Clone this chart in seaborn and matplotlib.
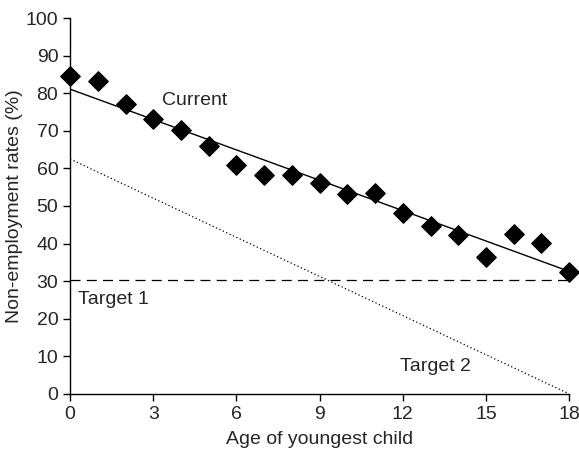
import matplotlib
matplotlib.use("Agg")
import matplotlib.pyplot as plt
import seaborn as sns
import pandas as pd
import numpy as np

ages = list(range(19))
rates = [84.5, 83.2, 77.1, 73.1, 70.2, 66.0, 60.9, 58.2, 58.2, 56.1,
         53.2, 53.5, 48.1, 44.7, 42.3, 36.4, 42.6, 40.2, 32.4]
current_trend_x = [0, 18]
current_trend_y = [81.1, 32.6]
target1_x = [0, 18]
target1_y = [30.4, 30.4]
target2_x = [0, 18]
target2_y = [62.5, 0.0]
xticks = [0, 3, 6, 9, 12, 15, 18]
yticks = list(range(0, 101, 10))

sns.set_style("white")
plt.rcParams['font.family'] = ['Liberation Sans', 'DejaVu Sans']

fig = plt.figure(figsize=(5.79, 4.65), dpi=100)
ax = fig.add_axes([0.121, 0.153, 0.862, 0.808])

df = pd.DataFrame({"age": ages, "rate": rates})
sns.scatterplot(data=df, x="age", y="rate", marker="D", s=100, color="black",
                edgecolor="black", ax=ax, clip_on=False, zorder=3)
sns.lineplot(x=current_trend_x, y=current_trend_y, color="black", lw=1.0, ax=ax)
sns.lineplot(x=target1_x, y=target1_y, color="black", lw=0.9, ax=ax)
ax.lines[-1].set_linestyle((0, (8, 5)))
sns.lineplot(x=target2_x, y=target2_y, color="black", lw=0.9, ax=ax)
ax.lines[-1].set_linestyle((0, (1, 2)))

fs = 14
ax.text(3.3, 78, "Current", fontsize=fs, va="center", ha="left")
ax.text(0.3, 25, "Target 1", fontsize=fs, va="center", ha="left")
ax.text(11.9, 7.3, "Target 2", fontsize=fs, va="center", ha="left")

ax.set_xlim(0, 18)
ax.set_ylim(0, 100)
ax.set_xticks(xticks)
ax.set_yticks(yticks)
ax.tick_params(axis="both", direction="out", length=5, width=1, labelsize=fs,
               bottom=True, left=True, color="black")
ax.set_xlabel("Age of youngest child", fontsize=fs, labelpad=6)
ax.set_ylabel("Non-employment rates (%)", fontsize=fs, labelpad=2)
sns.despine(ax=ax)
for s in ["left", "bottom"]:
    ax.spines[s].set_color("black")
    ax.spines[s].set_linewidth(1.0)

fig.savefig("out.png", dpi=100)
